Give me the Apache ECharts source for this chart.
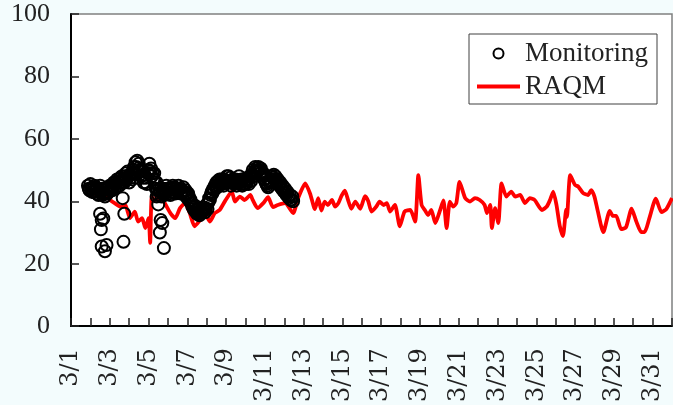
<!DOCTYPE html>
<html>
<head>
<meta charset="utf-8">
<script src="https://cdn.jsdelivr.net/npm/echarts@6/dist/echarts.min.js"></script>
<style>
  html, body { margin: 0; padding: 0; background: #f3fcfd; }
  #chart { width: 673px; height: 405px; }
</style>
</head>
<body>
<div id="chart"></div>
<script>
// Concentration series for March (hours counted from 3/1 00:00)

// RAQM model output
const raqmHours = [21, 26, 31, 36, 42, 48, 54, 61, 67, 73, 79, 83, 88, 92, 96, 98, 100, 104, 110, 116,
  123, 129, 135, 141, 147, 153, 160, 166, 172, 178, 184, 191, 199, 203, 209, 215, 222, 225, 231, 238,
  244, 250, 256, 265, 275, 281, 290, 296, 302, 306, 310, 314, 318, 323, 327, 331, 335, 339, 343, 347,
  352, 358, 364, 368, 372, 378, 382, 387, 391, 395, 401, 407, 413, 420, 426, 430, 434, 438, 442, 446,
  451, 457, 461, 465, 469, 473, 477, 481, 488, 494, 500, 506, 512, 515, 519, 521, 525, 529, 533, 539,
  545, 550, 556, 562, 568, 574, 583, 589, 593, 597, 601, 605, 609, 613, 614, 618, 624, 628, 634, 640,
  644, 648, 652, 659, 667, 671, 675, 681, 687, 694, 700, 706, 710, 716, 724, 731, 737, 744];
const raqmValues = [44.5, 43, 42, 41.5, 42, 40.5, 39.4, 38.3, 38.9, 34.6, 36.7, 33.5, 34.6, 31.4, 34.6, 26.7, 41.4, 40.4, 41.5, 39.4,
  36.2, 34.6, 37.8, 39.4, 36.2, 32, 34, 36, 33.5, 36.2, 37.2, 40.2, 43.1, 39.9, 41.5, 40.4, 42, 40.4, 37.8, 39.4,
  41.3, 38.1, 38.8, 39.4, 36.2, 40.9, 45.7, 42.4, 37.5, 41, 37, 39.9, 38.8, 40.4, 38.3, 39.4, 41.8, 43.4, 40.4, 37.6,
  39.9, 37.6, 41.6, 40, 36.7, 38.3, 39.9, 38.8, 39.4, 36.7, 38.8, 32, 36.7, 37.2, 33.5, 48.4, 38.8, 37.2, 35.6, 37.2,
  33, 37.2, 40.3, 31.4, 39.9, 38.3, 39.4, 46.2, 41, 39.9, 41, 40.4, 38.8, 36.2, 38.8, 31.4, 37.8, 33, 45.7, 41.5,
  43.1, 41.5, 42, 39.4, 41, 40.4, 37.2, 38.3, 40.4, 43.1, 38.8, 32.2, 28.8, 37.3, 35, 48.4, 45.2, 44.7, 42.6, 42,
  43.6, 41.5, 37, 30.1, 36.9, 35.3, 35.3, 31.1, 31.6, 37.6, 33.4, 30.1, 30.1, 34.6, 40.8, 36.5, 37.5, 41];

// Hourly monitoring record from 3/1 21:00
const monStartHour = 21;
const monValues = [
  45, 44, 43.5, 45.5, 44, 43, 44.5, 43, 45, 43.5, 44.5, 42.5,
  44, 42, 43.5, 45, 43, 44, 42, 44, 42.5, 41.5, 43, 44,
  42.5, 44.5, 43, 45, 43.5, 44.5, 43.5, 45, 46, 44, 46, 45.5,
  47, 45, 46.5, 45, 47.5, 46, 48, 46, 47, 46, 48, 49,
  47, 49.5, 48, 46, 48.5, 47.5, 49, 47, 50, 51, 49, 52.5,
  51, 53, 50.5, 52, 49.5, 50, 48, 50, 47.5, 46, 48.5, 46,
  47.5, 45.5, 49, 50, 52, 49.5, 50.5, 48, 49, 47, 49, 46,
  44, 46, 43.5, 42, 44, 43.5, 43, 41.5, 42.5, 44, 42, 43.5,
  43, 45, 44, 44, 42.5, 43.5, 42, 44, 43, 45, 43, 44.5,
  42.5, 44, 43.5, 43, 45, 44, 44, 42.5, 43, 43.5, 44.5, 43,
  42, 43.5, 42.5, 41, 42.5, 41.5, 40, 40.5, 39.5, 38.5, 38, 37.5,
  37, 38.5, 36.5, 36, 37.5, 36, 35.5, 36.5, 37, 36.5, 38, 37,
  38, 36.5, 37.5, 39, 37.5, 39.5, 41, 40.5, 42, 43, 42.5, 44,
  43.5, 45, 44.5, 46, 44.5, 46.5, 45, 47, 46, 47, 45.5, 46.5,
  45, 47, 46, 46, 48, 46.5, 48, 46, 47.5, 45, 46.5, 47,
  47, 45.5, 46, 47, 45, 46.5, 46, 48, 46.5, 45.5, 47, 45,
  47, 45.5, 46.5, 45.5, 47, 46, 47, 45.5, 48, 48, 46.5, 48.5,
  50, 48, 49.5, 51, 49.5, 50.5, 49.5, 51, 50, 49, 50.5, 49.5,
  48.5, 49, 47, 47, 46, 45.5, 45, 44.5, 46, 46.5, 47, 46,
  48, 47.5, 48.5, 47, 48, 46.5, 46, 47, 45.5, 45, 46, 44.5,
  44, 45, 43.5, 43, 44, 42.5, 42, 43, 41.5, 41, 42, 40.5,
  40.5, 41.5, 40];

// Low readings on 3/2, 3/3 and 3/5
const monLowHours = [36, 37, 38, 38, 40, 42, 44, 64, 65, 66, 106, 108, 110, 111, 113, 115];
const monLowValues = [36, 31, 34, 25.5, 34.5, 24, 26, 41, 27, 36, 41.5, 39, 30, 34, 33, 25];

// Axis settings
const dayCount = 31;
const yTicks = [0, 20, 40, 60, 80, 100];

const raqmData = raqmHours.map((h, i) => [h / 24, raqmValues[i]]);
const monData = monValues.map((v, i) => [(monStartHour + i) / 24, v])
  .concat(monLowHours.map((h, i) => [h / 24, monLowValues[i]]));

const serif = 'Liberation Serif';
const wideSerif = 'DejaVu Serif';
const chart = echarts.init(document.getElementById('chart'), null, { renderer: 'canvas' });

chart.setOption({
  backgroundColor: '#f3fcfd',
  animation: false,
  textStyle: { fontFamily: serif },
  grid: {
    left: 71, right: 1, top: 14, bottom: 76,
    show: true, backgroundColor: '#ffffff', borderColor: '#808080', borderWidth: 1.5
  },
  legend: {
    orient: 'vertical',
    left: 469, top: 34,
    padding: [6, 9, 4, 8],
    itemGap: 6,
    itemWidth: 43,
    itemHeight: 10,
    backgroundColor: '#ffffff',
    borderColor: '#404040',
    borderWidth: 1,
    textStyle: { fontFamily: serif, fontSize: 27, color: '#222' },
    data: [
      { name: 'Monitoring', icon: 'circle', itemStyle: { color: '#ffffff', borderColor: '#000', borderWidth: 2 } },
      { name: 'RAQM', icon: 'path://M0,0L43,0L43,4L0,4Z', itemStyle: { color: '#ff0000', borderWidth: 0 } }
    ]
  },
  xAxis: {
    type: 'value',
    min: 0, max: dayCount, interval: 1,
    axisLine: { lineStyle: { color: '#000', width: 2 } },
    axisTick: { inside: true, length: 8, lineStyle: { color: '#222', width: 1.5 } },
    splitLine: { show: false },
    axisLabel: {
      rotate: 90, margin: 22,
      fontFamily: wideSerif, fontSize: 24, color: '#222',
      formatter: v => (v % 2 === 0 && v < dayCount) ? '3/' + (v + 1) : ''
    }
  },
  yAxis: {
    type: 'value',
    min: yTicks[0], max: yTicks[yTicks.length - 1], interval: 20,
    axisLine: { show: true, lineStyle: { color: '#000', width: 2 } },
    axisTick: { show: true, inside: true, length: 8, lineStyle: { color: '#222', width: 1.5 } },
    splitLine: { show: false },
    axisLabel: { margin: 21, fontFamily: serif, fontSize: 26, color: '#222' }
  },
  series: [
    {
      name: 'Monitoring',
      type: 'scatter',
      data: monData,
      symbol: 'circle',
      symbolSize: 12,
      itemStyle: { color: 'rgba(255,255,255,0)', borderColor: '#000', borderWidth: 2, opacity: 1 },
      z: 3
    },
    {
      name: 'RAQM',
      type: 'line',
      data: raqmData,
      symbol: 'none',
      smooth: 0.2,
      lineStyle: { color: '#ff0000', width: 3.8 },
      itemStyle: { color: '#ff0000' },
      z: 2
    }
  ]
});
</script>
</body>
</html>
